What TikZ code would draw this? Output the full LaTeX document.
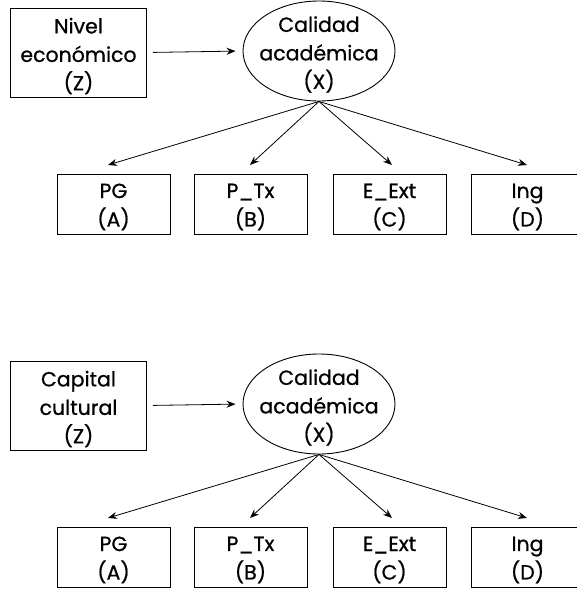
\documentclass[tikz,border=0pt]{standalone}
\usepackage{fontspec}
\setmainfont{Poppins}[FakeBold=0.7]
\usetikzlibrary{shapes.geometric,arrows.meta}
\begin{document}
\begin{tikzpicture}[x=1pt,y=-1pt,
  lbl/.style={font=\fontsize{20.5}{28.5}\selectfont, align=center, inner sep=0pt},
  zbox/.style={draw, line width=0.9pt, minimum width=136pt, minimum height=89pt, inner sep=0pt},
  xell/.style={draw, ellipse, line width=0.9pt, minimum width=152pt, minimum height=100pt, inner sep=0pt},
  obox/.style={draw, line width=0.9pt, minimum width=113pt, minimum height=60pt, inner sep=0pt},
  arr/.style={line width=0.8pt, -{Stealth[length=9pt,width=7pt]}}]
\useasboundingbox (0,0) rectangle (576,589);
\foreach \dy/\zt/\s in {0/{Nivel\\económico\\(Z)}/a, 353/{Capital\\cultural\\(Z)}/b}{
  \node[zbox] (Z\s) at (78.5,52.5+\dy) {};
  \node[lbl] (Zt\s) at (78.5,56+\dy) {\zt};
  \node[xell] (X\s) at (319,51+\dy) {};
  \node[lbl] (Xt\s) at (319,54.5+\dy) {Calidad\\académica\\(X)};
  \node[obox] (A\s) at (113.5,204+\dy) {};
  \node[obox] (B\s) at (250.5,204+\dy) {};
  \node[obox] (C\s) at (389.5,204+\dy) {};
  \node[obox] (D\s) at (527.5,204+\dy) {};
  \node[lbl] (At\s) at (113.5,207+\dy) {PG\\(A)};
  \node[lbl] (Bt\s) at (250.5,207+\dy) {P\_Tx\\(B)};
  \node[lbl] (Ct\s) at (389.5,207+\dy) {E\_Ext\\(C)};
  \node[lbl] (Dt\s) at (527.5,207+\dy) {Ing\\(D)};
  \coordinate (tA\s) at (108,165+\dy);
  \coordinate (tB\s) at (250,165+\dy);
  \coordinate (tC\s) at (392,165+\dy);
  \coordinate (tD\s) at (527,165+\dy);
  \draw[arr, shorten <=6pt, shorten >=7pt] (Z\s.east) -- (X\s.west);
  \foreach \t in {A,B,C,D}{
    \draw[arr] (X\s.south) -- (t\t\s);
  }
}
\end{tikzpicture}
\end{document}
